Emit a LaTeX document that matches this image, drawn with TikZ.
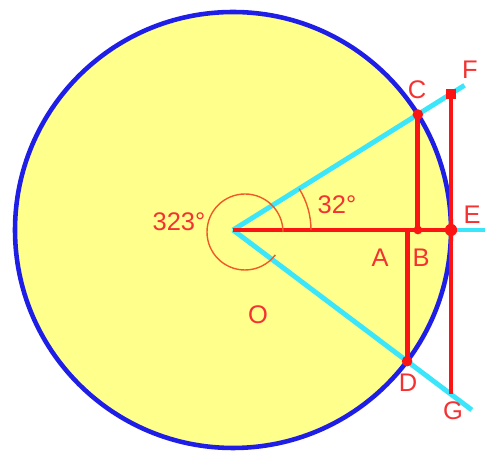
\documentclass[tikz,border=0pt]{standalone}
\usepackage{fontspec}
\setmainfont{Liberation Sans}
\usetikzlibrary{calc}
\definecolor{fillyel}{RGB}{255,255,140}
\definecolor{cblue}{RGB}{30,30,230}
\definecolor{ccyan}{RGB}{60,230,250}
\definecolor{cred}{RGB}{250,20,20}
\definecolor{corange}{RGB}{240,90,40}
\definecolor{ctext}{RGB}{245,50,50}
\tikzset{
  cyanline/.style={ccyan, line width=2.8pt},
  redline/.style={cred, line width=2.8pt},
  anglearc/.style={corange, line width=0.8pt},
  lbl/.style={text=ctext, font=\fontsize{14.5}{14.5}\selectfont, inner sep=0pt},
  dotmark/.style={fill=cred, draw=none, circle, inner sep=0pt, minimum size=#1},
}
\begin{document}
\begin{tikzpicture}[x=0.02cm,y=0.02cm]
\useasboundingbox (0,0) rectangle (485,453);
\coordinate (O) at (233,223);
\coordinate (C) at ($(O)+(32:218)$);
\coordinate (D) at ($(O)+(-37:218)$);
\coordinate (E) at ($(O)+(0:218)$);
\coordinate (F) at ($(E)+(0,136.2)$);
\coordinate (G) at ($(E)+(0,-164.3)$);
\coordinate (B) at (C |- O);
\coordinate (A) at (D |- O);
\coordinate (Fend) at ($(O)+(32:273)$);
\coordinate (Gend) at ($(O)+(-37:299)$);
\coordinate (Eend) at (485,223);
% disc
\fill[fillyel] (O) circle (218);
% cyan
\draw[cyanline] (O) -- (Fend);
\draw[cyanline] (O) -- (Gend);
\draw[cyanline] (E) -- (Eend);
% circle outline
\draw[cblue, line width=2.6pt] (O) circle (218);
% red lines
\draw[redline] (O) -- (E);
\draw[redline] (C) -- (B);
\draw[redline] (D) -- (A);
\draw[redline] (F) -- (G);
% dots
\node[dotmark=6pt] (dC) at (C) {};
\node[dotmark=6pt] (dD) at (D) {};
\node[dotmark=7pt] (dE) at (E) {};
\node[dotmark=5pt] (dB) at (B) {};
\node[fill=cred, inner sep=0pt, minimum size=6pt] (dF) at (F) {};
% angle arcs
\draw[anglearc] ($(O)+(12,-2)+(0:38)$) arc[start angle=0, end angle=323, radius=38];
\draw[anglearc] ($(O)+(0:78)$) arc[start angle=0, end angle=32, radius=78];
% labels
\node[lbl] (lC) at (417,363) {C};
\node[lbl] (lF) at (470,383) {F};
\node[lbl] (lE) at (472,238) {E};
\node[lbl] (lA) at (380,195) {A};
\node[lbl] (lB) at (421,195) {B};
\node[lbl] (lD) at (408,70) {D};
\node[lbl] (lG) at (453,42) {G};
\node[lbl] (lO) at (258,138) {O};
\node[lbl] (l32) at (337,248) {32°};
\node[lbl] (l323) at (179,231) {323°};
\end{tikzpicture}
\end{document}
